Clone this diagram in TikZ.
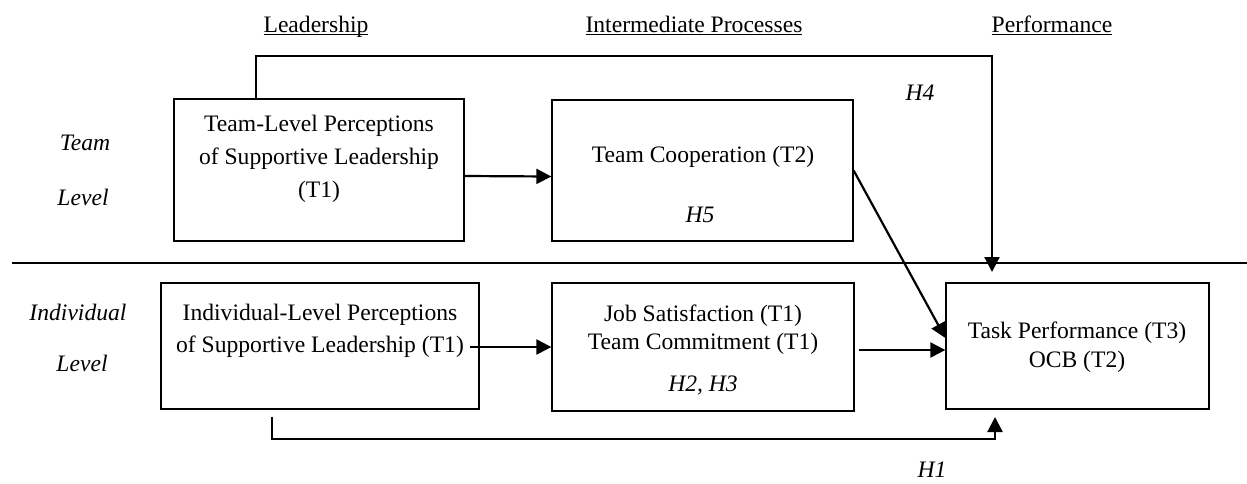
\documentclass[tikz,border=0pt]{standalone}
\usepackage{fontspec}
\setmainfont{Liberation Serif}
\usetikzlibrary{arrows.meta}
\newcommand\colhead[1]{\underline{\smash{#1}}}
\tikzset{
  box/.style={draw, line width=.65pt, inner sep=0pt},
  lbl/.style={font=\fontsize{11.8}{14.3}\selectfont, inner sep=1pt, align=center},
  hyp/.style={font=\fontsize{11.8}{14.3}\selectfont\itshape, inner sep=1pt},
  link/.style={line width=1.1pt, -{Triangle[length=7.5pt,width=7.5pt]}},
}

\begin{document}
\begin{tikzpicture}[x=.5pt,y=-.5pt]
    \useasboundingbox (0,0) rectangle (1247,483);

    % column heads
    \node[lbl,anchor=base] (headLead) at (316,32) {\colhead{Leadership}};
    \node[lbl,anchor=base] (headProc) at (694,32) {\colhead{Intermediate Processes}};
    \node[lbl,anchor=base] (headPerf) at (1052,32) {\colhead{Performance}};

    % levels
    \draw[line width=.85pt] (12,263) -- (1247,263);
    \node[hyp] (teamA) at (85,143) {Team};
    \node[hyp] (teamB) at (83,197) {Level};
    \node[hyp] (indA) at (78,312) {Individual};
    \node[hyp] (indB) at (82,363) {Level};

    % team level boxes
    \node[box,minimum width=145pt,minimum height=71pt] (boxA) at (319,170) {};
    \node[lbl,font=\fontsize{11.8}{16.6}\selectfont] (txtA) at (319,159)
      {Team-Level Perceptions\\of Supportive Leadership\\(T1)};
    \node[box,minimum width=150.5pt,minimum height=70.5pt] (boxB) at (702.5,170.5) {};
    \node[lbl] (txtB) at (703,157) {Team Cooperation (T2)};
    \node[hyp] (hypFive) at (700,215) {H5};

    % individual level boxes
    \node[box,minimum width=159pt,minimum height=63pt] (boxC) at (320,346) {};
    \node[lbl] (txtC1) at (320,315) {Individual-Level Perceptions};
    \node[lbl] (txtC2) at (320,347) {of Supportive Leadership (T1)};
    \node[box,minimum width=151pt,minimum height=64pt] (boxD) at (703,347) {};
    \node[lbl,font=\fontsize{11.8}{14}\selectfont] (txtD) at (703,330)
      {Job Satisfaction (T1)\\Team Commitment (T1)};
    \node[hyp] (hypTwo) at (703,385) {H2, H3};
    \node[box,minimum width=131.5pt,minimum height=63pt] (boxE) at (1077.5,346) {};
    \node[lbl,font=\fontsize{11.8}{14.5}\selectfont] (txtE) at (1077,347.5)
      {Task Performance (T3)\\OCB (T2)};

    % paths
    \draw[link] ([yshift=-3pt]boxA.east) -- ([yshift=-3pt]boxB.west);
    \draw[link] ([xshift=2pt]txtC2.east) -- (txtC2.east -| boxD.west);
    \coordinate (outD) at ([xshift=2pt,yshift=-1.5pt]boxD.east);
    \draw[link] (outD) -- (outD -| boxE.west);
    \draw[link] (boxB.east) -- ([yshift=4pt]boxE.west);

    \coordinate (topTurn) at (992,56);
    \coordinate (topEnd) at (992,272);
    \draw[link] ([xshift=41.5pt]boxA.north west) |- (topTurn) -- (topEnd);
    \node[hyp] (hypFour) at (920,93) {H4};

    \coordinate (lowTurn) at (995,439);
    \coordinate (lowEnd) at (995,417);
    \draw[link] ([xshift=56pt,yshift=-3.5pt]boxC.south west) |- (lowTurn) -- (lowEnd);
    \node[hyp] (hypOne) at (932,470) {H1};
\end{tikzpicture}
\end{document}
